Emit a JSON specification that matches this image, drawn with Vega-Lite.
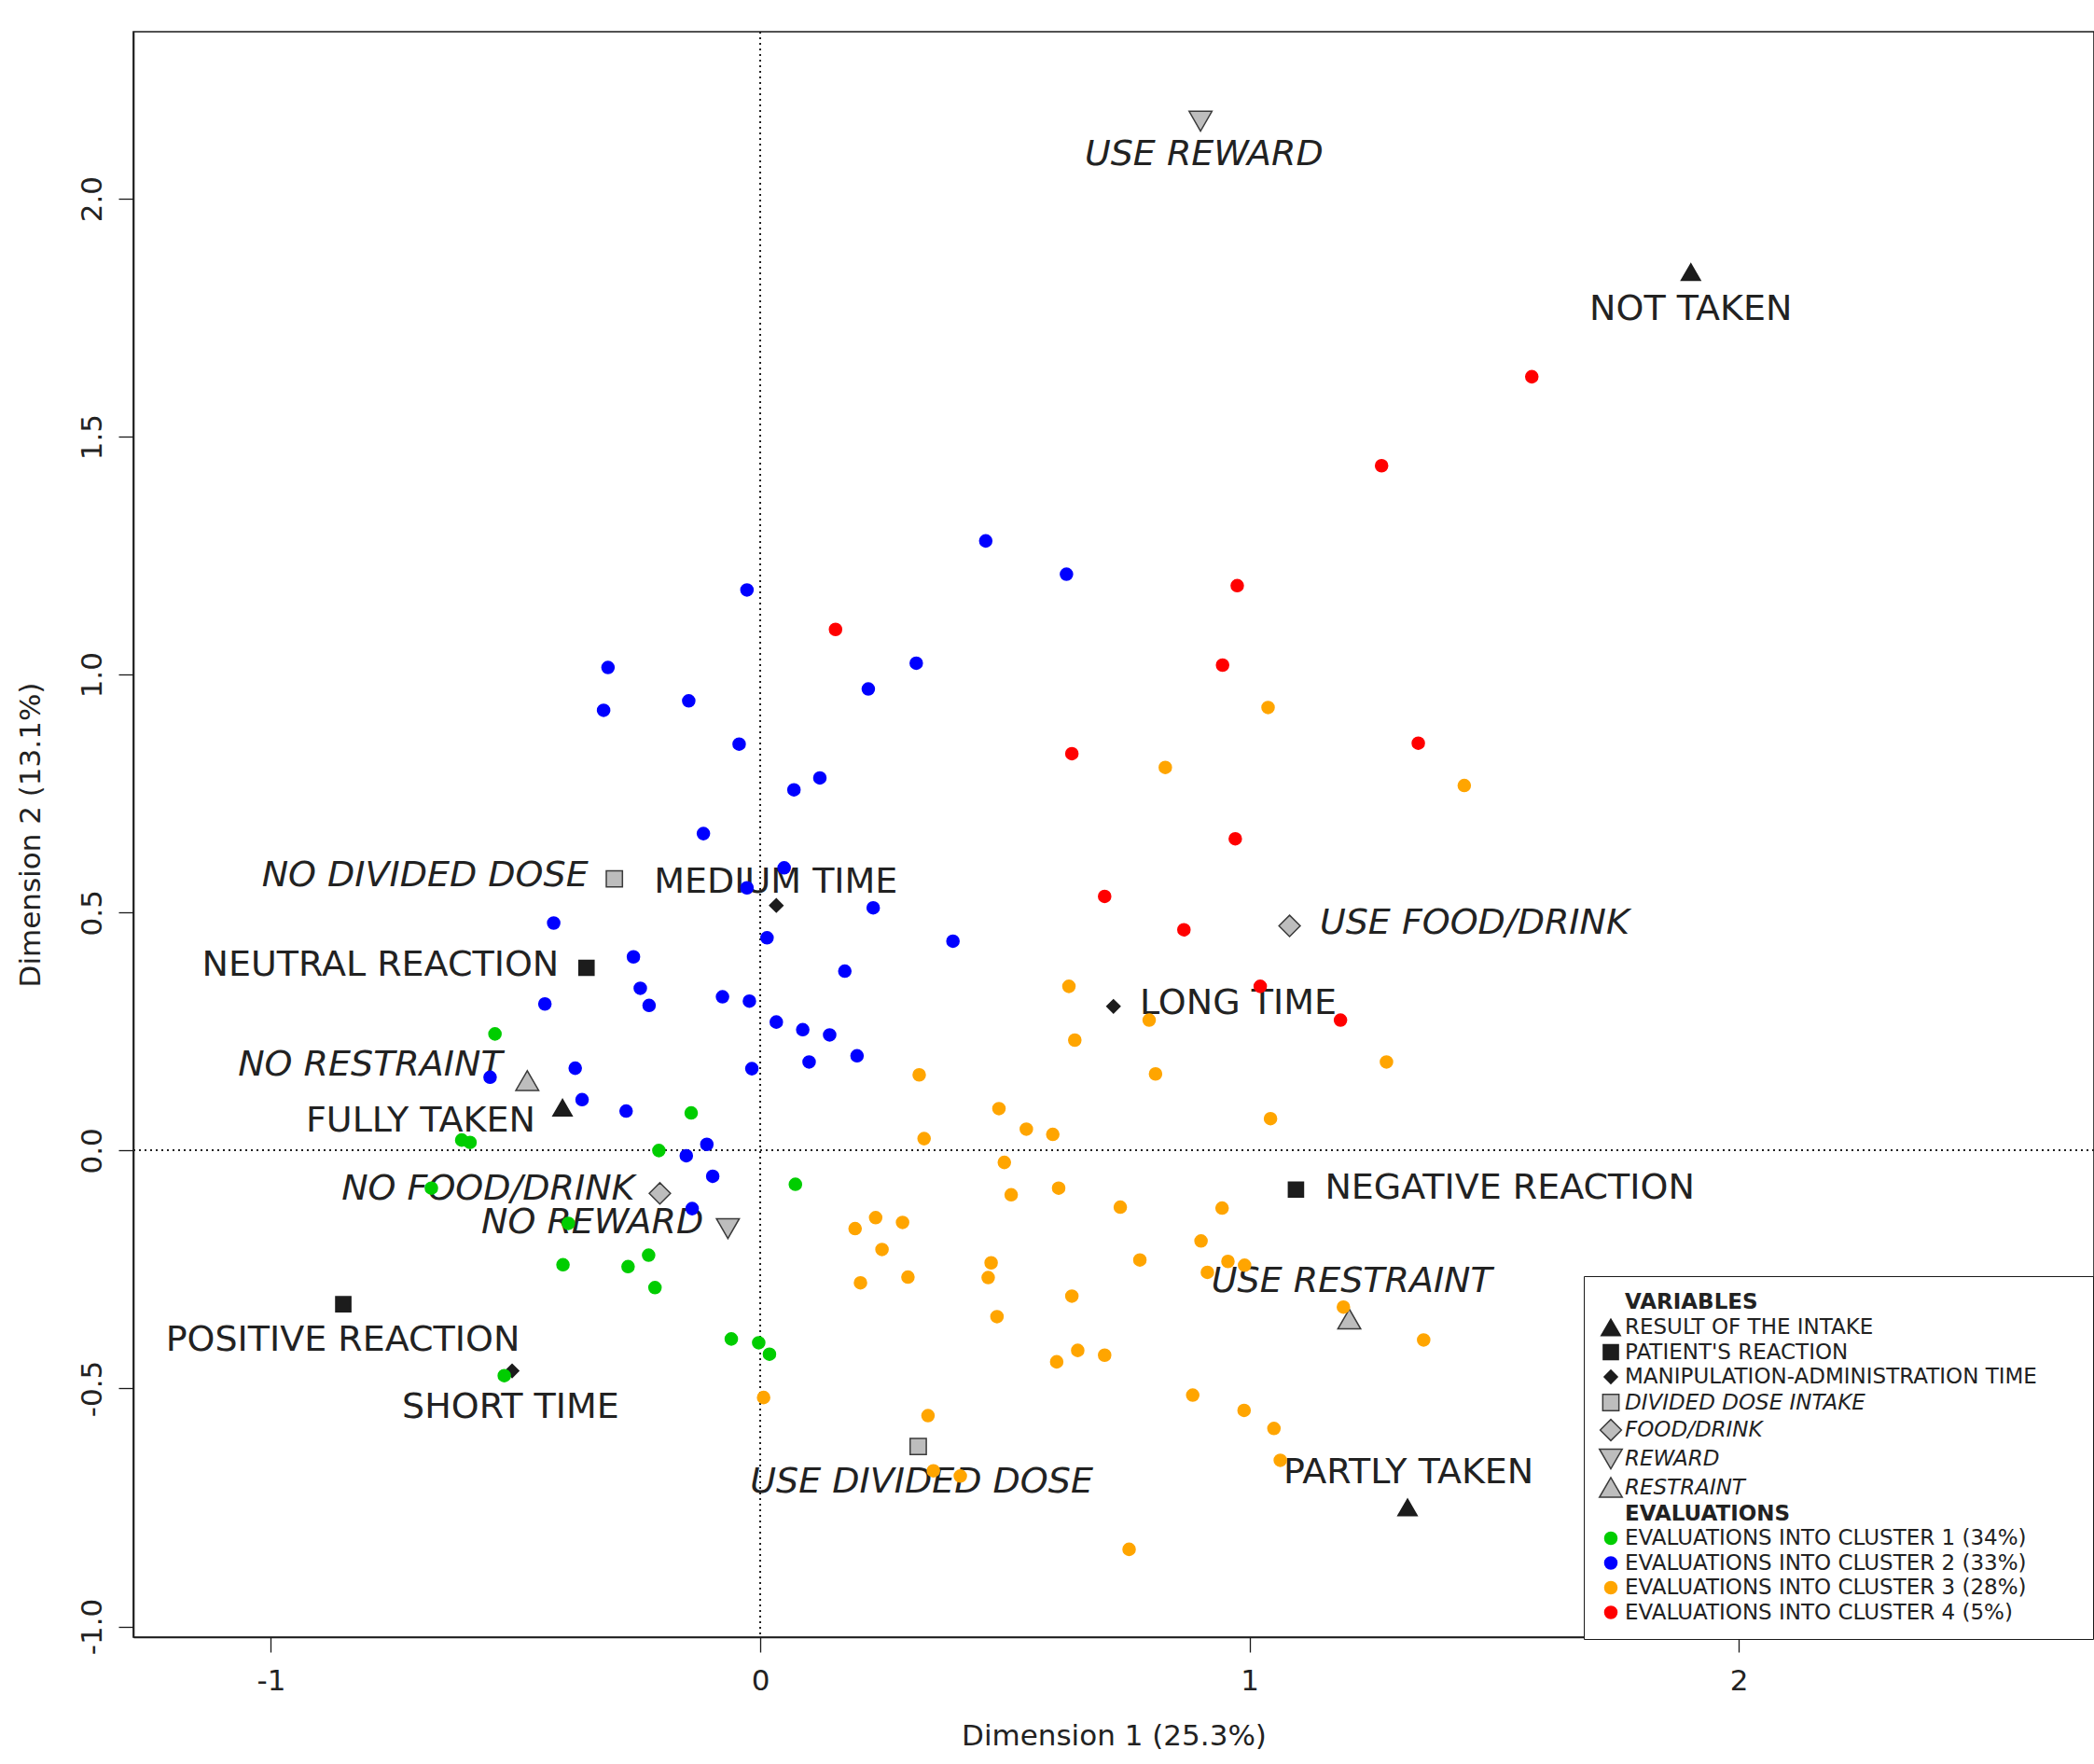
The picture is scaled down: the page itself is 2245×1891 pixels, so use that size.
{
  "$schema": "https://vega.github.io/schema/vega-lite/v6.json",
  "width": 2102,
  "height": 1721,
  "autosize": {"type": "none"},
  "padding": {"left": 143, "top": 34, "right": 0, "bottom": 136},
  "background": "white",
  "config": {
    "view": {"stroke": "#1a1a1a", "strokeWidth": 1.6},
    "font": "DejaVu Sans",
    "axis": {
      "grid": false,
      "domainColor": "#1a1a1a",
      "domainWidth": 1.6,
      "tickColor": "#1a1a1a",
      "tickWidth": 1.3,
      "tickSize": 16,
      "labelFont": "DejaVu Sans",
      "labelFontSize": 31,
      "labelColor": "#222222",
      "titleFont": "DejaVu Sans",
      "titleFontSize": 31,
      "titleFontWeight": "normal",
      "titleColor": "#222222"
    }
  },
  "datasets": {
    "vars": [
      {"group": "RESULT OF THE INTAKE", "label": "NOT TAKEN", "x": 1.902, "y": 1.846, "lx": 1.902, "ly": 1.767},
      {"group": "RESULT OF THE INTAKE", "label": "FULLY TAKEN", "x": -0.404, "y": 0.090, "lx": -0.694, "ly": 0.061},
      {"group": "RESULT OF THE INTAKE", "label": "PARTLY TAKEN", "x": 1.323, "y": -0.750, "lx": 1.325, "ly": -0.677},
      {"group": "PATIENT'S REACTION", "label": "NEUTRAL REACTION", "x": -0.355, "y": 0.384, "lx": -0.776, "ly": 0.389},
      {"group": "PATIENT'S REACTION", "label": "NEGATIVE REACTION", "x": 1.095, "y": -0.082, "lx": 1.532, "ly": -0.080},
      {"group": "PATIENT'S REACTION", "label": "POSITIVE REACTION", "x": -0.852, "y": -0.323, "lx": -0.853, "ly": -0.400},
      {"group": "MANIPULATION-ADMINISTRATION TIME", "label": "MEDIUM TIME", "x": 0.033, "y": 0.515, "lx": 0.032, "ly": 0.563},
      {"group": "MANIPULATION-ADMINISTRATION TIME", "label": "LONG TIME", "x": 0.722, "y": 0.303, "lx": 0.977, "ly": 0.308},
      {"group": "MANIPULATION-ADMINISTRATION TIME", "label": "SHORT TIME", "x": -0.507, "y": -0.463, "lx": -0.510, "ly": -0.540},
      {"group": "DIVIDED DOSE INTAKE", "label": "NO DIVIDED DOSE", "x": -0.298, "y": 0.571, "lx": -0.685, "ly": 0.577},
      {"group": "DIVIDED DOSE INTAKE", "label": "USE DIVIDED DOSE", "x": 0.323, "y": -0.622, "lx": 0.330, "ly": -0.697},
      {"group": "FOOD/DRINK", "label": "USE FOOD/DRINK", "x": 1.082, "y": 0.472, "lx": 1.460, "ly": 0.478},
      {"group": "FOOD/DRINK", "label": "NO FOOD/DRINK", "x": -0.205, "y": -0.090, "lx": -0.556, "ly": -0.082},
      {"group": "REWARD", "label": "USE REWARD", "x": 0.900, "y": 2.163, "lx": 0.907, "ly": 2.093},
      {"group": "REWARD", "label": "NO REWARD", "x": -0.066, "y": -0.164, "lx": -0.343, "ly": -0.153},
      {"group": "RESTRAINT", "label": "USE RESTRAINT", "x": 1.204, "y": -0.354, "lx": 1.209, "ly": -0.276},
      {"group": "RESTRAINT", "label": "NO RESTRAINT", "x": -0.476, "y": 0.147, "lx": -0.797, "ly": 0.180}
    ],
    "evals": [
      {"group": "EVALUATIONS INTO CLUSTER 1 (34%)", "x": -0.542, "y": 0.245},
      {"group": "EVALUATIONS INTO CLUSTER 1 (34%)", "x": -0.141, "y": 0.079},
      {"group": "EVALUATIONS INTO CLUSTER 1 (34%)", "x": -0.610, "y": 0.022},
      {"group": "EVALUATIONS INTO CLUSTER 1 (34%)", "x": -0.593, "y": 0.017},
      {"group": "EVALUATIONS INTO CLUSTER 1 (34%)", "x": -0.207, "y": 0.000},
      {"group": "EVALUATIONS INTO CLUSTER 1 (34%)", "x": 0.072, "y": -0.071},
      {"group": "EVALUATIONS INTO CLUSTER 1 (34%)", "x": -0.672, "y": -0.079},
      {"group": "EVALUATIONS INTO CLUSTER 1 (34%)", "x": -0.392, "y": -0.153},
      {"group": "EVALUATIONS INTO CLUSTER 1 (34%)", "x": -0.228, "y": -0.220},
      {"group": "EVALUATIONS INTO CLUSTER 1 (34%)", "x": -0.403, "y": -0.240},
      {"group": "EVALUATIONS INTO CLUSTER 1 (34%)", "x": -0.270, "y": -0.244},
      {"group": "EVALUATIONS INTO CLUSTER 1 (34%)", "x": -0.215, "y": -0.288},
      {"group": "EVALUATIONS INTO CLUSTER 1 (34%)", "x": -0.059, "y": -0.396},
      {"group": "EVALUATIONS INTO CLUSTER 1 (34%)", "x": -0.003, "y": -0.404},
      {"group": "EVALUATIONS INTO CLUSTER 1 (34%)", "x": 0.019, "y": -0.428},
      {"group": "EVALUATIONS INTO CLUSTER 1 (34%)", "x": -0.523, "y": -0.473},
      {"group": "EVALUATIONS INTO CLUSTER 2 (33%)", "x": -0.027, "y": 1.178},
      {"group": "EVALUATIONS INTO CLUSTER 2 (33%)", "x": 0.319, "y": 1.024},
      {"group": "EVALUATIONS INTO CLUSTER 2 (33%)", "x": -0.311, "y": 1.015},
      {"group": "EVALUATIONS INTO CLUSTER 2 (33%)", "x": 0.221, "y": 0.970},
      {"group": "EVALUATIONS INTO CLUSTER 2 (33%)", "x": -0.146, "y": 0.945},
      {"group": "EVALUATIONS INTO CLUSTER 2 (33%)", "x": -0.320, "y": 0.925},
      {"group": "EVALUATIONS INTO CLUSTER 2 (33%)", "x": -0.043, "y": 0.854},
      {"group": "EVALUATIONS INTO CLUSTER 2 (33%)", "x": 0.122, "y": 0.783},
      {"group": "EVALUATIONS INTO CLUSTER 2 (33%)", "x": 0.069, "y": 0.758},
      {"group": "EVALUATIONS INTO CLUSTER 2 (33%)", "x": -0.116, "y": 0.666},
      {"group": "EVALUATIONS INTO CLUSTER 2 (33%)", "x": 0.049, "y": 0.594},
      {"group": "EVALUATIONS INTO CLUSTER 2 (33%)", "x": -0.027, "y": 0.552},
      {"group": "EVALUATIONS INTO CLUSTER 2 (33%)", "x": 0.231, "y": 0.510},
      {"group": "EVALUATIONS INTO CLUSTER 2 (33%)", "x": -0.422, "y": 0.478},
      {"group": "EVALUATIONS INTO CLUSTER 2 (33%)", "x": 0.014, "y": 0.447},
      {"group": "EVALUATIONS INTO CLUSTER 2 (33%)", "x": -0.259, "y": 0.407},
      {"group": "EVALUATIONS INTO CLUSTER 2 (33%)", "x": 0.173, "y": 0.377},
      {"group": "EVALUATIONS INTO CLUSTER 2 (33%)", "x": -0.245, "y": 0.341},
      {"group": "EVALUATIONS INTO CLUSTER 2 (33%)", "x": -0.440, "y": 0.308},
      {"group": "EVALUATIONS INTO CLUSTER 2 (33%)", "x": -0.227, "y": 0.305},
      {"group": "EVALUATIONS INTO CLUSTER 2 (33%)", "x": -0.077, "y": 0.323},
      {"group": "EVALUATIONS INTO CLUSTER 2 (33%)", "x": -0.022, "y": 0.314},
      {"group": "EVALUATIONS INTO CLUSTER 2 (33%)", "x": 0.033, "y": 0.270},
      {"group": "EVALUATIONS INTO CLUSTER 2 (33%)", "x": 0.087, "y": 0.254},
      {"group": "EVALUATIONS INTO CLUSTER 2 (33%)", "x": 0.142, "y": 0.243},
      {"group": "EVALUATIONS INTO CLUSTER 2 (33%)", "x": 0.198, "y": 0.199},
      {"group": "EVALUATIONS INTO CLUSTER 2 (33%)", "x": 0.100, "y": 0.186},
      {"group": "EVALUATIONS INTO CLUSTER 2 (33%)", "x": -0.017, "y": 0.172},
      {"group": "EVALUATIONS INTO CLUSTER 2 (33%)", "x": -0.552, "y": 0.154},
      {"group": "EVALUATIONS INTO CLUSTER 2 (33%)", "x": -0.378, "y": 0.173},
      {"group": "EVALUATIONS INTO CLUSTER 2 (33%)", "x": -0.364, "y": 0.107},
      {"group": "EVALUATIONS INTO CLUSTER 2 (33%)", "x": -0.274, "y": 0.083},
      {"group": "EVALUATIONS INTO CLUSTER 2 (33%)", "x": -0.109, "y": 0.013},
      {"group": "EVALUATIONS INTO CLUSTER 2 (33%)", "x": -0.151, "y": -0.011},
      {"group": "EVALUATIONS INTO CLUSTER 2 (33%)", "x": -0.097, "y": -0.054},
      {"group": "EVALUATIONS INTO CLUSTER 2 (33%)", "x": -0.139, "y": -0.122},
      {"group": "EVALUATIONS INTO CLUSTER 2 (33%)", "x": 0.461, "y": 1.281},
      {"group": "EVALUATIONS INTO CLUSTER 2 (33%)", "x": 0.626, "y": 1.211},
      {"group": "EVALUATIONS INTO CLUSTER 2 (33%)", "x": 0.394, "y": 0.440},
      {"group": "EVALUATIONS INTO CLUSTER 3 (28%)", "x": 1.038, "y": 0.931},
      {"group": "EVALUATIONS INTO CLUSTER 3 (28%)", "x": 0.828, "y": 0.805},
      {"group": "EVALUATIONS INTO CLUSTER 3 (28%)", "x": 1.439, "y": 0.767},
      {"group": "EVALUATIONS INTO CLUSTER 3 (28%)", "x": 0.631, "y": 0.345},
      {"group": "EVALUATIONS INTO CLUSTER 3 (28%)", "x": 0.795, "y": 0.274},
      {"group": "EVALUATIONS INTO CLUSTER 3 (28%)", "x": 0.643, "y": 0.232},
      {"group": "EVALUATIONS INTO CLUSTER 3 (28%)", "x": 0.325, "y": 0.159},
      {"group": "EVALUATIONS INTO CLUSTER 3 (28%)", "x": 0.808, "y": 0.161},
      {"group": "EVALUATIONS INTO CLUSTER 3 (28%)", "x": 1.280, "y": 0.186},
      {"group": "EVALUATIONS INTO CLUSTER 3 (28%)", "x": 0.488, "y": 0.088},
      {"group": "EVALUATIONS INTO CLUSTER 3 (28%)", "x": 0.544, "y": 0.045},
      {"group": "EVALUATIONS INTO CLUSTER 3 (28%)", "x": 0.598, "y": 0.034},
      {"group": "EVALUATIONS INTO CLUSTER 3 (28%)", "x": 0.335, "y": 0.025},
      {"group": "EVALUATIONS INTO CLUSTER 3 (28%)", "x": 1.043, "y": 0.067},
      {"group": "EVALUATIONS INTO CLUSTER 3 (28%)", "x": 0.499, "y": -0.025},
      {"group": "EVALUATIONS INTO CLUSTER 3 (28%)", "x": 0.610, "y": -0.079},
      {"group": "EVALUATIONS INTO CLUSTER 3 (28%)", "x": 0.513, "y": -0.093},
      {"group": "EVALUATIONS INTO CLUSTER 3 (28%)", "x": 0.736, "y": -0.119},
      {"group": "EVALUATIONS INTO CLUSTER 3 (28%)", "x": 0.944, "y": -0.121},
      {"group": "EVALUATIONS INTO CLUSTER 3 (28%)", "x": 0.291, "y": -0.151},
      {"group": "EVALUATIONS INTO CLUSTER 3 (28%)", "x": 0.236, "y": -0.141},
      {"group": "EVALUATIONS INTO CLUSTER 3 (28%)", "x": 0.194, "y": -0.164},
      {"group": "EVALUATIONS INTO CLUSTER 3 (28%)", "x": 0.249, "y": -0.208},
      {"group": "EVALUATIONS INTO CLUSTER 3 (28%)", "x": 0.205, "y": -0.278},
      {"group": "EVALUATIONS INTO CLUSTER 3 (28%)", "x": 0.302, "y": -0.266},
      {"group": "EVALUATIONS INTO CLUSTER 3 (28%)", "x": 0.901, "y": -0.190},
      {"group": "EVALUATIONS INTO CLUSTER 3 (28%)", "x": 0.472, "y": -0.236},
      {"group": "EVALUATIONS INTO CLUSTER 3 (28%)", "x": 0.776, "y": -0.230},
      {"group": "EVALUATIONS INTO CLUSTER 3 (28%)", "x": 0.956, "y": -0.233},
      {"group": "EVALUATIONS INTO CLUSTER 3 (28%)", "x": 0.990, "y": -0.241},
      {"group": "EVALUATIONS INTO CLUSTER 3 (28%)", "x": 0.914, "y": -0.256},
      {"group": "EVALUATIONS INTO CLUSTER 3 (28%)", "x": 0.466, "y": -0.267},
      {"group": "EVALUATIONS INTO CLUSTER 3 (28%)", "x": 0.637, "y": -0.306},
      {"group": "EVALUATIONS INTO CLUSTER 3 (28%)", "x": 0.484, "y": -0.349},
      {"group": "EVALUATIONS INTO CLUSTER 3 (28%)", "x": 1.192, "y": -0.329},
      {"group": "EVALUATIONS INTO CLUSTER 3 (28%)", "x": 1.356, "y": -0.398},
      {"group": "EVALUATIONS INTO CLUSTER 3 (28%)", "x": 0.649, "y": -0.420},
      {"group": "EVALUATIONS INTO CLUSTER 3 (28%)", "x": 0.606, "y": -0.444},
      {"group": "EVALUATIONS INTO CLUSTER 3 (28%)", "x": 0.704, "y": -0.430},
      {"group": "EVALUATIONS INTO CLUSTER 3 (28%)", "x": 0.884, "y": -0.514},
      {"group": "EVALUATIONS INTO CLUSTER 3 (28%)", "x": 0.989, "y": -0.546},
      {"group": "EVALUATIONS INTO CLUSTER 3 (28%)", "x": 1.050, "y": -0.584},
      {"group": "EVALUATIONS INTO CLUSTER 3 (28%)", "x": 1.063, "y": -0.651},
      {"group": "EVALUATIONS INTO CLUSTER 3 (28%)", "x": 0.343, "y": -0.557},
      {"group": "EVALUATIONS INTO CLUSTER 3 (28%)", "x": 0.354, "y": -0.673},
      {"group": "EVALUATIONS INTO CLUSTER 3 (28%)", "x": 0.409, "y": -0.684},
      {"group": "EVALUATIONS INTO CLUSTER 3 (28%)", "x": 0.754, "y": -0.838},
      {"group": "EVALUATIONS INTO CLUSTER 3 (28%)", "x": 0.007, "y": -0.519},
      {"group": "EVALUATIONS INTO CLUSTER 4 (5%)", "x": 1.577, "y": 1.626},
      {"group": "EVALUATIONS INTO CLUSTER 4 (5%)", "x": 1.270, "y": 1.439},
      {"group": "EVALUATIONS INTO CLUSTER 4 (5%)", "x": 0.975, "y": 1.187},
      {"group": "EVALUATIONS INTO CLUSTER 4 (5%)", "x": 0.945, "y": 1.020},
      {"group": "EVALUATIONS INTO CLUSTER 4 (5%)", "x": 1.345, "y": 0.856},
      {"group": "EVALUATIONS INTO CLUSTER 4 (5%)", "x": 0.637, "y": 0.834},
      {"group": "EVALUATIONS INTO CLUSTER 4 (5%)", "x": 0.971, "y": 0.655},
      {"group": "EVALUATIONS INTO CLUSTER 4 (5%)", "x": 0.704, "y": 0.534},
      {"group": "EVALUATIONS INTO CLUSTER 4 (5%)", "x": 0.866, "y": 0.464},
      {"group": "EVALUATIONS INTO CLUSTER 4 (5%)", "x": 1.022, "y": 0.345},
      {"group": "EVALUATIONS INTO CLUSTER 4 (5%)", "x": 1.186, "y": 0.274},
      {"group": "EVALUATIONS INTO CLUSTER 4 (5%)", "x": 0.154, "y": 1.095}
    ]
  },
  "layer": [
    {
      "data": {"name": "vars"},
      "mark": {"type": "rule", "strokeDash": [2, 4], "color": "#222222", "strokeWidth": 1.3},
      "encoding": {"x": {"datum": 0, "type": "quantitative"}}
    },
    {
      "data": {"name": "vars"},
      "mark": {"type": "rule", "strokeDash": [2, 4], "color": "#222222", "strokeWidth": 1.3},
      "encoding": {"y": {"datum": 0, "type": "quantitative"}}
    },
    {
      "data": {"name": "vars"},
      "mark": {"type": "point", "filled": true, "opacity": 1, "strokeWidth": 1.5},
      "encoding": {
        "x": {
          "field": "x", "type": "quantitative", "title": "Dimension 1 (25.3%)",
          "scale": {"domain": [-1.281, 2.726], "nice": false, "zero": false},
          "axis": {"values": [-1, 0, 1, 2], "labelExpr": "(datum.value < 0 ? '-' : '') + format(abs(datum.value), 'd')", "labelBaseline": "alphabetic", "labelPadding": 40, "titleY": 106, "titleBaseline": "middle"}
        },
        "y": {
          "field": "y", "type": "quantitative", "title": "Dimension 2 (13.1%)",
          "scale": {"domain": [-1.0225, 2.351], "nice": false, "zero": false},
          "axis": {"values": [-1, -0.5, 0, 0.5, 1, 1.5, 2], "labelExpr": "(datum.value < 0 ? '-' : '') + format(abs(datum.value), '.1f')", "labelAngle": 270, "labelAlign": "center", "labelBaseline": "alphabetic", "labelPadding": 19, "titleX": -110, "titleBaseline": "middle", "titleAngle": 270}
        },
        "fill": {
          "field": "group", "type": "nominal",
          "scale": {"domain": ["VARIABLES", "RESULT OF THE INTAKE", "PATIENT'S REACTION", "MANIPULATION-ADMINISTRATION TIME", "DIVIDED DOSE INTAKE", "FOOD/DRINK", "REWARD", "RESTRAINT", "EVALUATIONS", "EVALUATIONS INTO CLUSTER 1 (34%)", "EVALUATIONS INTO CLUSTER 2 (33%)", "EVALUATIONS INTO CLUSTER 3 (28%)", "EVALUATIONS INTO CLUSTER 4 (5%)"],
                    "range": ["transparent", "#1c1c1c", "#1c1c1c", "#1c1c1c", "#bdbdbd", "#bdbdbd", "#bdbdbd", "#bdbdbd", "transparent", "#00cd00", "#0000ff", "#ffa500", "#ff0000"]},
          "legend": {
            "title": null, "orient": "none", "legendX": 1555, "legendY": 1334, "direction": "vertical",
            "values": ["VARIABLES", "RESULT OF THE INTAKE", "PATIENT'S REACTION", "MANIPULATION-ADMINISTRATION TIME", "DIVIDED DOSE INTAKE", "FOOD/DRINK", "REWARD", "RESTRAINT", "EVALUATIONS", "EVALUATIONS INTO CLUSTER 1 (34%)", "EVALUATIONS INTO CLUSTER 2 (33%)", "EVALUATIONS INTO CLUSTER 3 (28%)", "EVALUATIONS INTO CLUSTER 4 (5%)"],
            "strokeColor": "#1a1a1a", "fillColor": "white", "padding": 16,
            "labelFont": "DejaVu Sans", "labelFontSize": 23, "labelColor": "#222222", "labelLimit": 1000, "labelOffset": 2,
            "rowPadding": 2.5, "symbolStrokeWidth": 1.5, "symbolOpacity": 1,
            "labelExpr": "datum.value == 'MANIPULATION-ADMINISTRATION TIME' ? datum.label + '\u00a0\u00a0\u00a0\u00a0\u00a0\u00a0\u200b' : datum.label",
            "encoding": {
              "labels": {
                "fontWeight": {"condition": {"test": "datum.value == 'VARIABLES' || datum.value == 'EVALUATIONS'", "value": "bold"}, "value": "normal"},
                "fontStyle": {"condition": {"test": "indexof(['DIVIDED DOSE INTAKE','FOOD/DRINK','REWARD','RESTRAINT'], datum.value) >= 0", "value": "italic"}, "value": "normal"}
              }
            }
          }
        },
        "stroke": {
          "field": "group", "type": "nominal",
          "scale": {"domain": ["VARIABLES", "RESULT OF THE INTAKE", "PATIENT'S REACTION", "MANIPULATION-ADMINISTRATION TIME", "DIVIDED DOSE INTAKE", "FOOD/DRINK", "REWARD", "RESTRAINT", "EVALUATIONS", "EVALUATIONS INTO CLUSTER 1 (34%)", "EVALUATIONS INTO CLUSTER 2 (33%)", "EVALUATIONS INTO CLUSTER 3 (28%)", "EVALUATIONS INTO CLUSTER 4 (5%)"],
                    "range": ["transparent", "#1c1c1c", "#1c1c1c", "#1c1c1c", "#3a3a3a", "#3a3a3a", "#3a3a3a", "#3a3a3a", "transparent", "#00cd00", "#0000ff", "#ffa500", "#ff0000"]}
        },
        "shape": {
          "field": "group", "type": "nominal",
          "scale": {"domain": ["VARIABLES", "RESULT OF THE INTAKE", "PATIENT'S REACTION", "MANIPULATION-ADMINISTRATION TIME", "DIVIDED DOSE INTAKE", "FOOD/DRINK", "REWARD", "RESTRAINT", "EVALUATIONS", "EVALUATIONS INTO CLUSTER 1 (34%)", "EVALUATIONS INTO CLUSTER 2 (33%)", "EVALUATIONS INTO CLUSTER 3 (28%)", "EVALUATIONS INTO CLUSTER 4 (5%)"],
                    "range": ["circle", "triangle-up", "square", "diamond", "square", "diamond", "triangle-down", "triangle-up", "circle", "circle", "circle", "circle", "circle"]}
        },
        "size": {
          "field": "group", "type": "nominal",
          "scale": {"type": "ordinal", "domain": ["VARIABLES", "RESULT OF THE INTAKE", "PATIENT'S REACTION", "MANIPULATION-ADMINISTRATION TIME", "DIVIDED DOSE INTAKE", "FOOD/DRINK", "REWARD", "RESTRAINT", "EVALUATIONS", "EVALUATIONS INTO CLUSTER 1 (34%)", "EVALUATIONS INTO CLUSTER 2 (33%)", "EVALUATIONS INTO CLUSTER 3 (28%)", "EVALUATIONS INTO CLUSTER 4 (5%)"],
                    "range": [1, 420, 260, 200, 300, 520, 600, 600, 1, 170, 170, 170, 170]}
        }
      }
    },
    {
      "data": {"name": "vars"},
      "transform": [{"filter": "indexof(['DIVIDED DOSE INTAKE','FOOD/DRINK','REWARD','RESTRAINT'], datum.group) < 0"}],
      "mark": {"type": "text", "font": "DejaVu Sans", "fontSize": 38, "color": "#222222", "align": "center", "baseline": "middle"},
      "encoding": {
        "x": {"field": "lx", "type": "quantitative", "title": "Dimension 1 (25.3%)"},
        "y": {"field": "ly", "type": "quantitative", "title": "Dimension 2 (13.1%)"},
        "text": {"field": "label"}
      }
    },
    {
      "data": {"name": "vars"},
      "transform": [{"filter": "indexof(['DIVIDED DOSE INTAKE','FOOD/DRINK','REWARD','RESTRAINT'], datum.group) >= 0"}],
      "mark": {"type": "text", "font": "DejaVu Sans", "fontSize": 38, "fontStyle": "italic", "color": "#222222", "align": "center", "baseline": "middle"},
      "encoding": {
        "x": {"field": "lx", "type": "quantitative", "title": "Dimension 1 (25.3%)"},
        "y": {"field": "ly", "type": "quantitative", "title": "Dimension 2 (13.1%)"},
        "text": {"field": "label"}
      }
    },
    {
      "data": {"name": "evals"},
      "mark": {"type": "point", "filled": true, "opacity": 1, "strokeWidth": 1.5},
      "encoding": {
        "x": {"field": "x", "type": "quantitative", "title": "Dimension 1 (25.3%)"},
        "y": {"field": "y", "type": "quantitative", "title": "Dimension 2 (13.1%)"},
        "fill": {"field": "group", "type": "nominal"},
        "stroke": {"field": "group", "type": "nominal"},
        "shape": {"field": "group", "type": "nominal"},
        "size": {"field": "group", "type": "nominal", "scale": {"type": "ordinal"}}
      }
    }
  ]
}
